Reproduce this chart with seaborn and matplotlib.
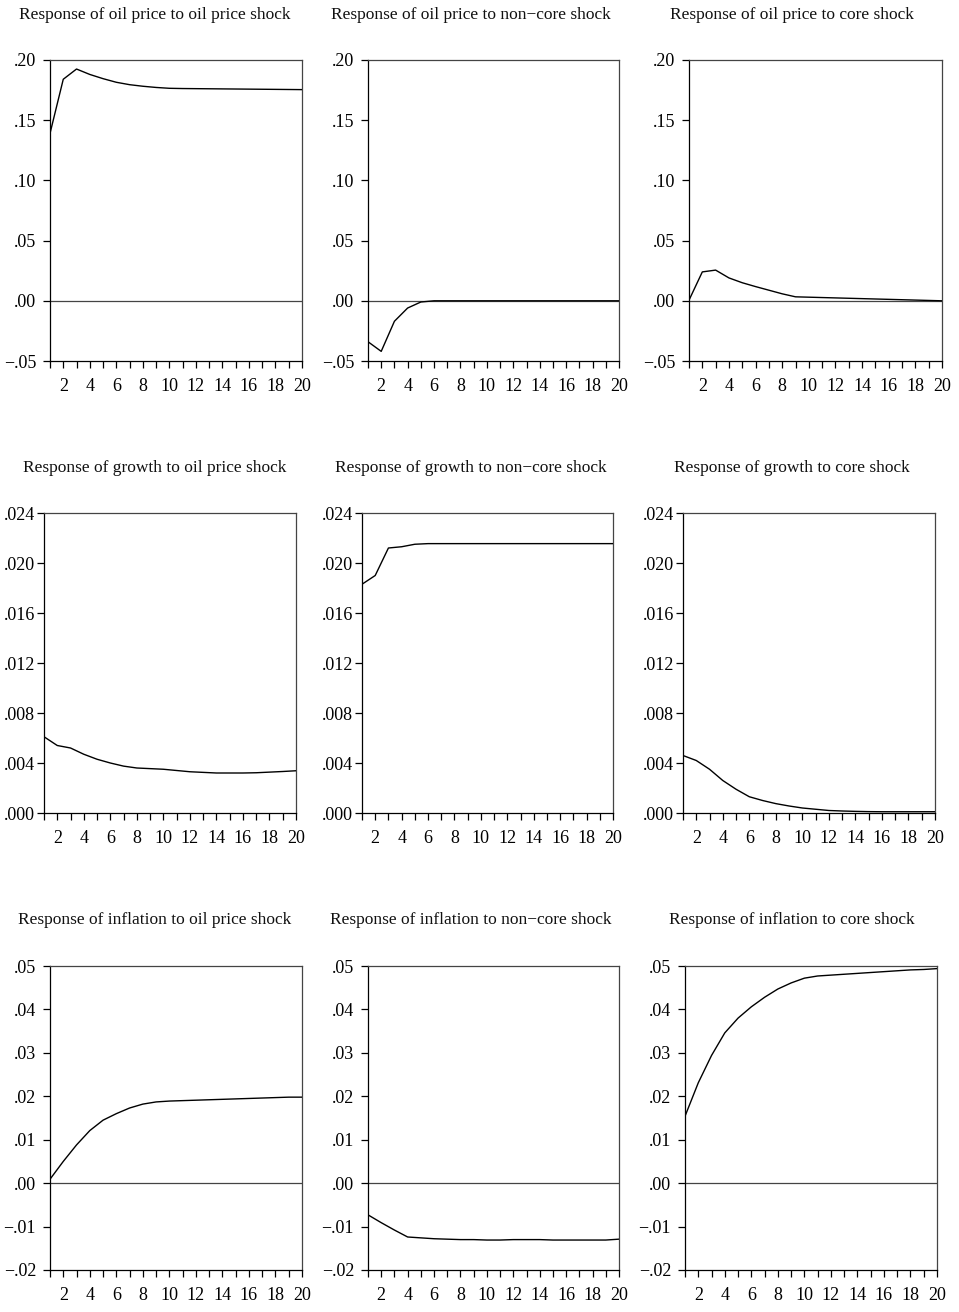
import matplotlib
matplotlib.use("Agg")
import numpy as np
import pandas as pd
import seaborn as sns
import matplotlib.pyplot as plt
from matplotlib.ticker import FuncFormatter

# Impulse-response horizons
periods = list(range(1, 21))

# Responses of oil price
oil_to_oil = [0.139, 0.184, 0.1925, 0.188, 0.1845, 0.1815, 0.1795, 0.1782, 0.1772, 0.1765,
              0.1763, 0.1762, 0.1761, 0.1760, 0.1759, 0.1758, 0.1757, 0.1756, 0.1755, 0.1754]
oil_to_noncore = [-0.034, -0.042, -0.017, -0.006, -0.001, 0.0, 0.0, 0.0, 0.0, 0.0,
                  0.0, 0.0, 0.0, 0.0, 0.0, 0.0, 0.0, 0.0, 0.0, 0.0]
oil_to_core = [0.0005, 0.024, 0.0255, 0.019, 0.015, 0.0118, 0.0088, 0.0058, 0.0033, 0.0030,
               0.0027, 0.0024, 0.0021, 0.0018, 0.0015, 0.0012, 0.0009, 0.0006, 0.0003, 0.0]

# Responses of growth
growth_to_oil = [0.0061, 0.0054, 0.0052, 0.0047, 0.0043, 0.0040, 0.00375, 0.0036, 0.00355, 0.0035,
                 0.0034, 0.0033, 0.00325, 0.0032, 0.0032, 0.0032, 0.00322, 0.00327, 0.00332, 0.00338]
growth_to_noncore = [0.0183, 0.0190, 0.0212, 0.0213, 0.02150, 0.02155, 0.02155, 0.02155, 0.02155, 0.02155,
                     0.02155, 0.02155, 0.02155, 0.02155, 0.02155, 0.02155, 0.02155, 0.02155, 0.02155, 0.02155]
growth_to_core = [0.0046, 0.0042, 0.0035, 0.0026, 0.0019, 0.0013, 0.0010, 0.00075, 0.00056, 0.0004,
                  0.0003, 0.0002, 0.00016, 0.00013, 0.00011, 0.0001, 0.0001, 0.0001, 0.0001, 0.0001]

# Responses of inflation
infl_to_oil = [0.0009, 0.0050, 0.0088, 0.0121, 0.0145, 0.0160, 0.0173, 0.0182, 0.0187, 0.0189,
               0.0190, 0.0191, 0.0192, 0.0193, 0.0194, 0.0195, 0.0196, 0.0197, 0.0198, 0.0198]
infl_to_noncore = [-0.0073, -0.0091, -0.0108, -0.0124, -0.0126, -0.0128, -0.0129, -0.0130, -0.0130, -0.0131,
                   -0.0131, -0.0130, -0.0130, -0.0130, -0.0131, -0.0131, -0.0131, -0.0131, -0.0131, -0.0129]
infl_to_core = [0.0154, 0.0231, 0.0294, 0.0346, 0.0380, 0.0406, 0.0428, 0.0447, 0.0461, 0.0472,
                0.0477, 0.0479, 0.0481, 0.0483, 0.0485, 0.0487, 0.0489, 0.0491, 0.0492, 0.0494]

titles = [
    ["Response of oil price to oil price shock", "Response of oil price to non\u2212core shock",
     "Response of oil price to core shock"],
    ["Response of growth to oil price shock", "Response of growth to non\u2212core shock",
     "Response of growth to core shock"],
    ["Response of inflation to oil price shock", "Response of inflation to non\u2212core shock",
     "Response of inflation to core shock"],
]
series = [
    [oil_to_oil, oil_to_noncore, oil_to_core],
    [growth_to_oil, growth_to_noncore, growth_to_core],
    [infl_to_oil, infl_to_noncore, infl_to_core],
]
row_yticks = [
    [-0.05, 0.0, 0.05, 0.10, 0.15, 0.20],
    [0.0, 0.004, 0.008, 0.012, 0.016, 0.020, 0.024],
    [-0.02, -0.01, 0.0, 0.01, 0.02, 0.03, 0.04, 0.05],
]
row_decimals = [2, 3, 2]
row_zero_line = [True, False, True]
row_ypad = [5, 1.5, 5]

sns.set_style("ticks")
plt.rcParams['font.family'] = ['Liberation Serif', 'DejaVu Serif']

W, H = 959, 1312
fig = plt.figure(figsize=(W / 100, H / 100), dpi=100)

# axes boxes in pixels: (left, right, top, bottom)
boxes = [
    [(50, 302, 60, 361), (368, 619, 60, 361), (689, 942, 60, 361)],
    [(44, 296, 513, 813), (362, 613, 513, 813), (683, 935, 513, 813)],
    [(50, 302, 966, 1270), (368, 619, 966, 1270), (685, 937, 966, 1270)],
]
title_x = [155, 471, 792]
title_y = [15, 468, 920]


def make_formatter(nd):
    def f(v, pos):
        s = f"{abs(v):.{nd}f}"
        if s.startswith("0"):
            s = s[1:]
        if v < -1e-12:
            s = "\u2212" + s
        return s
    return FuncFormatter(f)


for r in range(3):
    for c in range(3):
        l, rr, t, b = boxes[r][c]
        ax = fig.add_axes([l / W, 1 - b / H, (rr - l) / W, (b - t) / H])
        df = pd.DataFrame({"period": periods, "response": series[r][c]})
        if row_zero_line[r]:
            ax.axhline(0, color="#444444", lw=0.9, zorder=1)
        sns.lineplot(data=df, x="period", y="response", ax=ax, color="black",
                     linewidth=1.0, zorder=3)
        ax.set_xlim(1, 20)
        ax.set_ylim(row_yticks[r][0], row_yticks[r][-1])
        ax.set_xticks(periods)
        ax.set_xticklabels([str(p) if p % 2 == 0 else "" for p in periods])
        ax.set_yticks(row_yticks[r])
        ax.yaxis.set_major_formatter(make_formatter(row_decimals[r]))
        ax.set_xlabel("")
        ax.set_ylabel("")
        ax.tick_params(axis="both", direction="out", length=5, width=0.9,
                       labelsize=13, colors="black")
        ax.tick_params(axis="x", pad=7)
        ax.tick_params(axis="y", pad=row_ypad[r])
        for side in ["left", "bottom"]:
            ax.spines[side].set_color("black")
            ax.spines[side].set_linewidth(0.9)
        for side in ["top", "right"]:
            ax.spines[side].set_color("#444444")
            ax.spines[side].set_linewidth(0.9)
        fig.text(title_x[c] / W, 1 - title_y[r] / H, titles[r][c],
                 ha="center", va="center", fontsize=12.5, color="#111111")

fig.savefig("out.png", dpi=100)
